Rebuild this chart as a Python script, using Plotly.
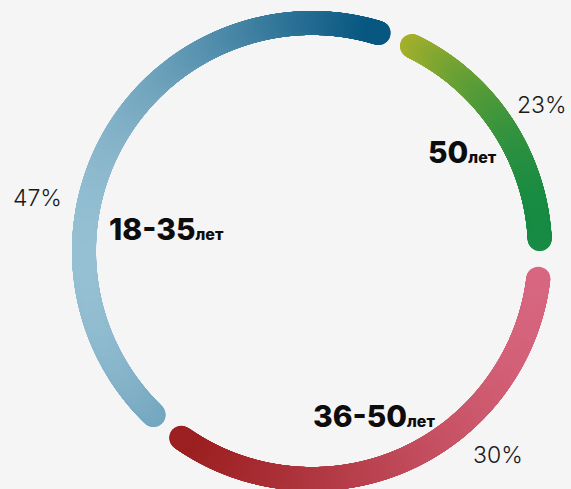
import numpy as np
import plotly.graph_objects as go

# ---- data ----
groups = ["50", "18-35", "36-50"]
unit = "лет"
percents = [23, 47, 30]
pct_labels = [f"{p}%" for p in percents]
# arc extents (degrees clockwise from 12 o'clock)
arc_start_deg = [26, 224, 97]
arc_end_deg = [87, 377, 215]
colors_left = ["#b3b42a", "#9cc4d6", "#9a1e1e"]
colors_right = ["#0a8847", "#02537e", "#da6a84"]

# ---- geometry / style ----
W, H = 571, 489
CX, CY, R = 312, 251, 228
STROKE = 24
BG = "#f5f5f5"

fig = go.Figure()
for s, e, cl, cr in zip(arc_start_deg, arc_end_deg, colors_left, colors_right):
    n = int(abs(e - s) * np.pi / 180 * R * 2.5)
    t = np.radians(np.linspace(s, e, n))
    x = CX + R * np.sin(t)
    y = CY - R * np.cos(t)
    fig.add_trace(go.Scatter(
        x=x, y=y, mode="markers", hoverinfo="skip", showlegend=False,
        marker=dict(size=STROKE, color=x, colorscale=[[0, cl], [1, cr]],
                    cmin=x.min() - STROKE / 2, cmax=x.max() + STROKE / 2,
                    line=dict(width=0), opacity=1),
    ))

label_pos = [(462, 152), (166, 229), (374, 416)]
pct_pos = [(542, 105), (37, 198), (498, 455)]

for g, (lx, ly) in zip(groups, label_pos):
    fig.add_annotation(
        x=lx, y=ly, xref="x", yref="y", showarrow=False,
        text=f"{g}<span style='font-size:16px'>{unit}</span>",
        font=dict(family="Inter", size=30, color="#0d0d0d", weight=800),
        xanchor="center", yanchor="middle",
    )
for p, (px, py) in zip(pct_labels, pct_pos):
    fig.add_annotation(
        x=px, y=py, xref="x", yref="y", showarrow=False, text=p,
        font=dict(family="Inter", size=23, color="#1a1a1a", weight=300),
        xanchor="center", yanchor="middle",
    )

fig.update_xaxes(range=[0, W], visible=False, fixedrange=True)
fig.update_yaxes(range=[H, 0], visible=False, fixedrange=True)
fig.update_layout(
    width=W, height=H, margin=dict(l=0, r=0, t=0, b=0),
    paper_bgcolor=BG, plot_bgcolor=BG,
)
fig.write_html(
    "out.html",
    config={"displayModeBar": False},
    post_script="document.body.style.margin='0';document.body.style.overflow='hidden';",
)
